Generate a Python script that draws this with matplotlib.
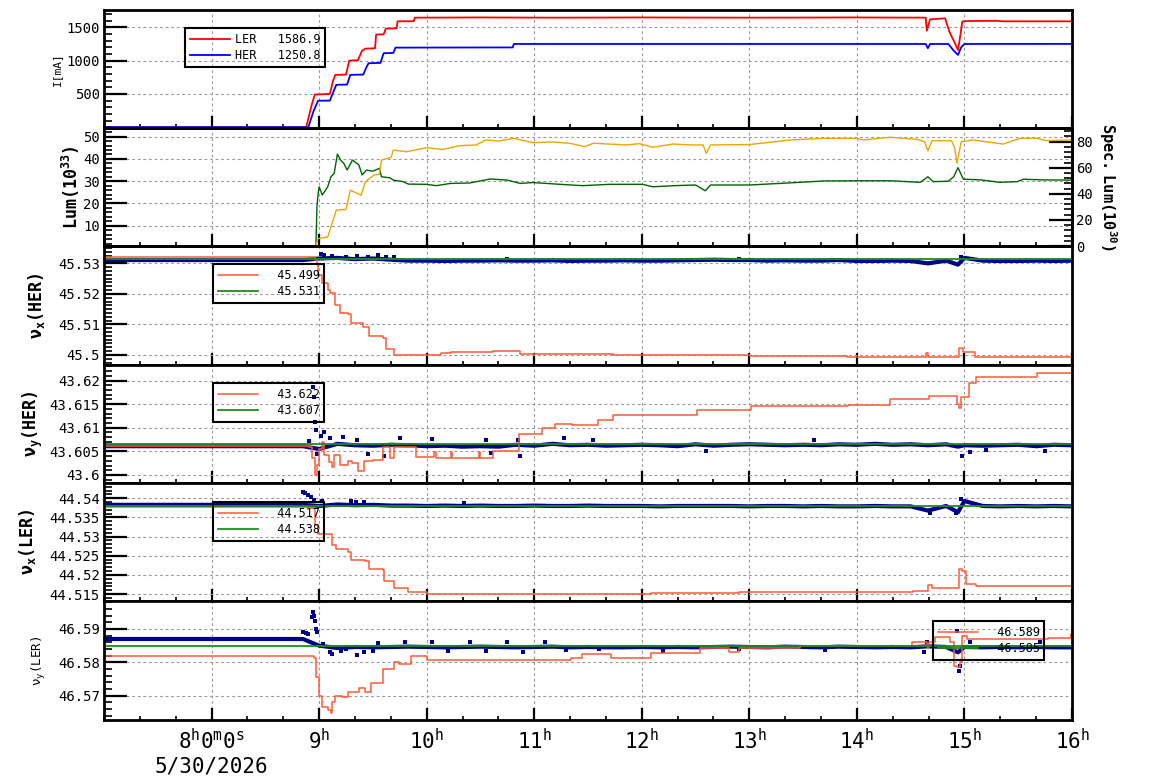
import matplotlib
matplotlib.use("Agg")
import matplotlib.pyplot as plt
from matplotlib.ticker import MultipleLocator, AutoMinorLocator, FuncFormatter

plt.rcParams['font.family'] = 'DejaVu Sans Mono'
plt.rcParams['mathtext.fontset'] = 'custom'
plt.rcParams['mathtext.rm'] = 'DejaVu Sans Mono'
plt.rcParams['mathtext.it'] = 'DejaVu Sans Mono'
plt.rcParams['mathtext.sf'] = 'DejaVu Sans Mono'
plt.rcParams['mathtext.tt'] = 'DejaVu Sans Mono'
plt.rcParams['mathtext.bf'] = 'DejaVu Sans Mono:bold'

# ---- beam currents (hours of day, mA)
ler_t = [7.00, 8.88, 8.93, 8.96, 9.10, 9.13, 9.15, 9.25, 9.28, 9.36, 9.40, 9.43, 9.52, 9.53, 9.60, 9.62, 9.72, 9.73, 9.88, 9.89,
         10.50, 11.20, 12.00, 13.00, 14.00, 14.64, 14.65, 14.68, 14.82, 14.86, 14.90, 14.94, 14.96, 14.98, 15.00, 15.30, 15.35, 16.00]
ler_i = [0, 0, 330, 490, 500, 700, 785, 790, 1000, 1005, 1150, 1180, 1185, 1390, 1395, 1480, 1485, 1590, 1592, 1645,
         1648, 1645, 1648, 1645, 1648, 1645, 1450, 1620, 1635, 1434, 1300, 1160, 1360, 1584, 1594, 1598, 1590, 1590]
her_t = [7.00, 8.90, 8.95, 8.99, 9.10, 9.14, 9.16, 9.26, 9.29, 9.41, 9.44, 9.46, 9.57, 9.60, 9.69, 9.71, 10.80, 10.81,
         12.00, 14.64, 14.66, 14.68, 14.85, 14.90, 14.94, 14.97, 15.00, 16.00]
her_i = [0, 0, 250, 397, 400, 560, 637, 640, 786, 790, 900, 961, 965, 1111, 1115, 1195, 1198, 1250,
         1250, 1250, 1186, 1250, 1250, 1150, 1085, 1200, 1250, 1251]

# ---- luminosity (left axis) and specific luminosity (right axis)
lum_t = [8.97, 8.98, 8.99, 9.00, 9.03, 9.06, 9.08, 9.11, 9.14, 9.17, 9.20, 9.23, 9.26, 9.31, 9.37, 9.40, 9.44, 9.50, 9.56, 9.58,
         9.66, 9.69, 9.78, 9.83, 10.00, 10.09, 10.22, 10.40, 10.59, 10.75, 10.87, 10.99, 11.24, 11.45, 11.70, 12.01, 12.10, 12.30,
         12.50, 12.59, 12.64, 13.00, 13.32, 13.69, 14.00, 14.31, 14.59, 14.66, 14.71, 14.85, 14.90, 14.94, 14.99, 15.15, 15.33,
         15.49, 15.55, 15.71, 16.00]
lum_v = [0.9, 18.6, 24.0, 27.5, 23.8, 26.0, 27.5, 32.0, 33.5, 42.2, 39.5, 38.0, 35.0, 39.5, 37.3, 32.8, 35.0, 34.5, 35.8, 32.0,
         31.5, 30.5, 29.8, 28.7, 28.6, 28.0, 29.0, 29.2, 31.0, 30.5, 29.0, 29.4, 28.6, 28.0, 28.6, 28.6, 27.5, 28.0,
         28.3, 25.7, 28.3, 28.3, 29.1, 30.1, 30.2, 30.2, 29.5, 32.0, 29.8, 30.0, 32.0, 36.1, 30.9, 30.6, 29.5,
         29.8, 30.9, 30.6, 30.5]
spl_t = [8.97, 8.99, 9.08, 9.11, 9.16, 9.25, 9.29, 9.39, 9.43, 9.51, 9.56, 9.58, 9.67, 9.69, 9.81, 10.00, 10.15, 10.30, 10.46,
         10.55, 10.67, 10.81, 10.99, 11.17, 11.33, 11.47, 11.55, 11.86, 11.98, 12.10, 12.29, 12.47, 12.57, 12.60, 12.64, 13.00,
         13.38, 13.69, 14.00, 14.06, 14.31, 14.56, 14.63, 14.66, 14.70, 14.88, 14.91, 14.93, 14.97, 15.08, 15.36, 15.52, 15.67,
         15.76, 16.00]
spl_v = [0.5, 5.7, 6.9, 14.6, 27.5, 28.0, 42.8, 39.0, 49.2, 54.4, 55.0, 65.9, 68.0, 73.6, 72.3, 75.4, 74.0, 76.9, 77.5,
         81.3, 80.5, 82.6, 79.2, 79.8, 78.8, 76.2, 78.8, 77.5, 78.5, 75.7, 78.2, 77.5, 77.5, 71.0, 77.5, 77.8,
         81.3, 82.6, 82.6, 81.3, 83.4, 81.8, 80.0, 73.1, 80.8, 80.8, 75.0, 63.4, 80.0, 81.3, 78.2, 82.6, 82.6,
         80.8, 81.3]

# ---- tunes: set values (tomato, step-wise)
nxh_t = [7.00, 8.91, 8.96, 8.98, 8.99, 9.03, 9.08, 9.10, 9.15, 9.19, 9.27, 9.30, 9.41, 9.46, 9.59, 9.62, 9.70, 10.07, 10.13,
         10.23, 10.62, 10.82, 10.87, 11.59, 11.73, 13.01, 13.91, 14.63, 14.64, 14.66, 14.92, 14.95, 14.99, 15.10, 16.00]
nxh_v = [45.5322, 45.5322, 45.5311, 45.5295, 45.5262, 45.5235, 45.5213, 45.5202, 45.5164, 45.5137, 45.5134, 45.5104,
         45.5093, 45.5063, 45.5055, 45.5020, 45.5000, 45.5000, 45.5005, 45.5009, 45.5013, 45.5012, 45.5003, 45.5003,
         45.5001, 45.4997, 45.4992, 45.4992, 45.5005, 45.4992, 45.4992, 45.5024, 45.5011, 45.4992, 45.4992]
nyh_t = [7.00, 8.91, 8.93, 8.96, 8.98, 9.00, 9.03, 9.05, 9.09, 9.12, 9.14, 9.19, 9.27, 9.31, 9.36, 9.42, 9.50, 9.59, 9.66,
         9.70, 9.90, 10.07, 10.09, 10.23, 10.24, 10.49, 10.50, 10.62, 10.82, 10.86, 11.07, 11.19, 11.35, 11.59, 11.73,
         12.51, 13.02, 13.92, 14.31, 14.67, 14.92, 14.93, 14.95, 14.97, 15.04, 15.11, 15.67, 16.00]
nyh_v = [43.6061, 43.6060, 43.6035, 43.6000, 43.6021, 43.6056, 43.6070, 43.6042, 43.6028, 43.6017, 43.6042, 43.6022,
         43.6030, 43.6026, 43.6008, 43.6030, 43.6032, 43.6060, 43.6035, 43.6060, 43.6039, 43.6049, 43.6037, 43.6049,
         43.6037, 43.6049, 43.6037, 43.6050, 43.6050, 43.6086, 43.6099, 43.6107, 43.6105, 43.6116, 43.6127, 43.6138,
         43.6146, 43.6148, 43.6160, 43.6167, 43.6167, 43.6150, 43.6141, 43.6165, 43.6195, 43.6207, 43.6217, 43.6217]
nxl_t = [7.00, 8.91, 8.96, 8.99, 9.10, 9.12, 9.16, 9.27, 9.30, 9.43, 9.46, 9.59, 9.60, 9.70, 9.83, 10.00, 12.09, 12.90,
         14.51, 14.52, 14.66, 14.70, 14.92, 14.95, 14.98, 15.01, 15.11, 16.00]
nxl_v = [44.5378, 44.5374, 44.5330, 44.5307, 44.5307, 44.5278, 44.5268, 44.5261, 44.5239, 44.5236, 44.5215, 44.5213,
         44.5185, 44.5165, 44.5156, 44.5150, 44.5152, 44.5155, 44.5155, 44.5158, 44.5174, 44.5165, 44.5165, 44.5215,
         44.5210, 44.5176, 44.5170, 44.5169]
nyl_t = [7.00, 8.95, 8.97, 9.00, 9.03, 9.08, 9.11, 9.12, 9.15, 9.21, 9.27, 9.37, 9.43, 9.48, 9.59, 9.70, 9.74, 9.85, 10.00,
         11.34, 11.44, 11.71, 12.09, 12.54, 12.81, 12.90, 13.47, 14.51, 14.65, 14.67, 14.73, 14.87, 14.90, 14.93, 14.96,
         14.98, 15.02, 15.78, 15.99, 16.00]
nyl_v = [46.5819, 46.5812, 46.5757, 46.5699, 46.5667, 46.5657, 46.5649, 46.5682, 46.5699, 46.5695, 46.5712, 46.5722,
         46.5712, 46.5739, 46.5779, 46.5801, 46.5795, 46.5819, 46.5807, 46.5812, 46.5825, 46.5812, 46.5827, 46.5842,
         46.5832, 46.5842, 46.5850, 46.5862, 46.5845, 46.5862, 46.5877, 46.5860, 46.5790, 46.5787, 46.5800, 46.5880,
         46.5869, 46.5872, 46.5885, 46.5885]

# ---- tunes: reference values (green, flat)
ref_t = [7.0, 16.0]
nxh_ref = [45.5313, 45.5313]
nyh_ref = [43.6066, 43.6066]
nxl_ref = [44.5380, 44.5380]
nyl_ref = [46.5849, 46.5849]

# ---- tunes: measured (navy)
blue_t = [7.00, 8.85, 9.00, 9.17, 9.33, 9.50, 9.67, 9.83, 10.00, 10.17, 10.33, 10.50, 10.67, 10.83, 11.00, 11.17, 11.33,
          11.50, 11.67, 11.83, 12.00, 12.17, 12.33, 12.50, 12.67, 12.83, 13.00, 13.17, 13.33, 13.50, 13.67, 13.83, 14.00,
          14.17, 14.33, 14.50, 14.66, 14.83, 14.94, 15.00, 15.17, 15.33, 15.50, 15.67, 15.83, 16.00]
nxh_meas = [45.5311, 45.5311, 45.5316, 45.5318, 45.5314, 45.5316, 45.5312, 45.5309, 45.5309, 45.5308, 45.5309, 45.5309,
            45.5310, 45.5309, 45.5309, 45.5310, 45.5308, 45.5309, 45.5309, 45.5310, 45.5309, 45.5309, 45.5310, 45.5311,
            45.5312, 45.5311, 45.5311, 45.5309, 45.5310, 45.5309, 45.5309, 45.5311, 45.5308, 45.5308, 45.5309, 45.5308,
            45.5300, 45.5309, 45.5296, 45.5318, 45.5309, 45.5308, 45.5308, 45.5309, 45.5308, 45.5309]
nyh_meas = [43.6061, 43.6061, 43.6055, 43.6066, 43.6063, 43.6062, 43.6064, 43.6063, 43.6061, 43.6062, 43.6060, 43.6061,
            43.6060, 43.6064, 43.6062, 43.6066, 43.6063, 43.6064, 43.6062, 43.6063, 43.6064, 43.6063, 43.6061, 43.6065,
            43.6062, 43.6064, 43.6065, 43.6064, 43.6063, 43.6064, 43.6063, 43.6065, 43.6064, 43.6066, 43.6064, 43.6065,
            43.6063, 43.6065, 43.6060, 43.6063, 43.6062, 43.6063, 43.6064, 43.6061, 43.6064, 43.6063]
nxl_meas = [44.5383, 44.5383, 44.5380, 44.5384, 44.5382, 44.5383, 44.5381, 44.5381, 44.5380, 44.5381, 44.5380, 44.5381,
            44.5380, 44.5380, 44.5381, 44.5380, 44.5380, 44.5381, 44.5380, 44.5380, 44.5380, 44.5379, 44.5380, 44.5380,
            44.5380, 44.5380, 44.5379, 44.5380, 44.5380, 44.5379, 44.5380, 44.5379, 44.5379, 44.5380, 44.5379, 44.5379,
            44.5368, 44.5380, 44.5364, 44.5393, 44.5380, 44.5379, 44.5380, 44.5379, 44.5380, 44.5379]
nyl_meas = [46.5870, 46.5870, 46.5850, 46.5843, 46.5846, 46.5845, 46.5846, 46.5847, 46.5846, 46.5845, 46.5846, 46.5847,
            46.5846, 46.5845, 46.5846, 46.5847, 46.5845, 46.5846, 46.5845, 46.5845, 46.5846, 46.5845, 46.5846, 46.5845,
            46.5846, 46.5847, 46.5846, 46.5845, 46.5847, 46.5846, 46.5845, 46.5847, 46.5846, 46.5845, 46.5846, 46.5845,
            46.5848, 46.5846, 46.5830, 46.5846, 46.5845, 46.5846, 46.5845, 46.5846, 46.5845, 46.5845]

# scattered single readings off the main band
nxh_out_t = [9.02, 9.05, 9.12, 9.25, 9.35, 9.45, 9.55, 9.62, 9.70, 10.75, 12.90, 14.97]
nxh_out_v = [45.5330, 45.5326, 45.5324, 45.5322, 45.5325, 45.5322, 45.5326, 45.5321, 45.5322, 45.5314, 45.5313, 45.5322]
nyh_out_t = [8.91, 8.94, 8.95, 8.96, 8.97, 8.98, 9.02, 9.05, 9.10, 9.22, 9.35, 9.45, 9.60, 9.75, 10.05, 10.55, 10.60,
             10.85, 10.87, 11.28, 11.55, 12.60, 13.60, 14.98, 15.05, 15.20, 15.75]
nyh_out_v = [43.6072, 43.6187, 43.6165, 43.6113, 43.6095, 43.6045, 43.6082, 43.6090, 43.6078, 43.6080, 43.6074, 43.6045,
             43.6040, 43.6078, 43.6076, 43.6075, 43.6047, 43.6075, 43.6040, 43.6078, 43.6074, 43.6050, 43.6075, 43.6040,
             43.6048, 43.6052, 43.6050]
nxl_out_t = [8.85, 8.87, 8.90, 8.92, 8.95, 9.03, 9.30, 9.34, 9.42, 10.35, 14.68, 14.92, 14.97]
nxl_out_v = [44.5417, 44.5414, 44.5408, 44.5404, 44.5396, 44.5392, 44.5393, 44.5391, 44.5390, 44.5389, 44.5362, 44.5361,
             44.5397]
nyl_out_t = [8.85, 8.88, 8.90, 8.93, 8.94, 8.95, 8.96, 8.97, 8.98, 9.04, 9.10, 9.12, 9.20, 9.25, 9.35, 9.42, 9.50, 9.55,
             9.80, 10.05, 10.20, 10.40, 10.55, 10.75, 10.90, 11.10, 11.30, 11.60, 12.20, 12.90, 13.70, 14.62, 14.65,
             14.93, 14.95, 14.96, 15.05, 15.70]
nyl_out_v = [46.5890, 46.5888, 46.5885, 46.5935, 46.5950, 46.5938, 46.5925, 46.5900, 46.5890, 46.5855, 46.5830, 46.5825,
             46.5835, 46.5840, 46.5822, 46.5830, 46.5835, 46.5858, 46.5860, 46.5862, 46.5835, 46.5860, 46.5835, 46.5862,
             46.5832, 46.5860, 46.5836, 46.5840, 46.5835, 46.5840, 46.5836, 46.5830, 46.5862, 46.5895, 46.5775, 46.5790,
             46.5860, 46.5860]

hour_ticks = [8, 9, 10, 11, 12, 13, 14, 15, 16]
hour_labels = [r'$8^{h}0^{m}0^{s}$' + '\n5/30/2026', r'$9^{h}$', r'$10^{h}$', r'$11^{h}$', r'$12^{h}$',
               r'$13^{h}$', r'$14^{h}$', r'$15^{h}$', r'$16^{h}$']

TOMATO = '#ff5a36'
GREEN = '#1e8c1e'
NAVY = '#00008b'

W, H = 1154, 782
fig = plt.figure(figsize=(W / 100, H / 100), dpi=100)
edges = [10, 128, 246, 365, 483, 601, 720]
axs = []
for i in range(6):
    axs.append(fig.add_axes([104 / W, 1 - edges[i + 1] / H, 968 / W, (edges[i + 1] - edges[i]) / H]))


def style(ax, yticks, minor, ylim):
    ax.set_xlim(7, 16)
    ax.set_ylim(*ylim)
    ax.set_xticks(hour_ticks)
    ax.xaxis.set_minor_locator(MultipleLocator(1 / 3))
    ax.set_yticks(yticks)
    ax.yaxis.set_minor_locator(minor)
    ax.yaxis.set_major_formatter(FuncFormatter(lambda v, p: '%g' % round(v, 6)))
    ax.tick_params(axis='x', which='major', direction='in', length=9, width=1.6, labelbottom=False)
    ax.tick_params(axis='x', which='minor', direction='in', length=3, width=1.2)
    ax.tick_params(axis='y', which='major', direction='in', length=16.5, width=1.6, labelsize=10, pad=3)
    ax.tick_params(axis='y', which='minor', direction='in', length=5.5, width=1.2)
    ax.grid(True, which='major', color='#9a9a9a', linestyle=(0, (2.5, 2.5)), linewidth=0.8)
    for s in ax.spines.values():
        s.set_linewidth(2)


def add_legend(ax, x, y, labels):
    leg = ax.legend(labels, loc='upper left', bbox_to_anchor=(x, y), borderaxespad=0, fontsize=8.5,
                    handlelength=3.4, handletextpad=0.4, labelspacing=0.3, borderpad=0.4,
                    fancybox=False, edgecolor='black', facecolor='none', framealpha=1)
    leg.get_frame().set_linewidth(1.5)


# panel 1: currents
ax = axs[0]
ax.plot(ler_t, ler_i, color='#ff0000', lw=1.3)
ax.plot(her_t, her_i, color='#0000ff', lw=1.3)
style(ax, [500, 1000, 1500], MultipleLocator(100), (-12, 1760))
ax.set_ylabel('I[mA]', fontsize=8)
ax.yaxis.set_label_coords(-0.0434, 0.5)
add_legend(ax, 0.0837, 0.8475, ['LER   1586.9', 'HER   1250.8'])

# panel 2: luminosity
ax = axs[1]
ax.plot(lum_t, lum_v, color='#006400', lw=1.0)
style(ax, [10, 20, 30, 40, 50], MultipleLocator(2), (0.9, 53.9))
ax.set_ylabel(r'$\mathbf{Lum(10^{33})}$', fontsize=12)
ax.yaxis.set_label_coords(-0.0227, 0.5)
axr = ax.twinx()
axr.plot(spl_t, spl_v, color='#f0a500', lw=1.0)
axr.set_ylim(0, 90.5)
axr.set_yticks([0, 20, 40, 60, 80])
axr.yaxis.set_minor_locator(MultipleLocator(4))
axr.tick_params(axis='y', which='major', direction='in', length=16.5, width=1.6, labelsize=10, pad=3)
axr.tick_params(axis='y', which='minor', direction='in', length=5.5, width=1.2)
for s in axr.spines.values():
    s.set_linewidth(2)
axr.set_ylabel(r'$\mathbf{Spec.\ Lum(10^{30})}$', fontsize=11, rotation=270, va='bottom')
axr.yaxis.set_label_coords(1.0258, 0.5)

# panels 3-6: tunes
tune_panels = [
    (axs[2], blue_t, nxh_meas, nxh_out_t, nxh_out_v, nxh_t, nxh_v, nxh_ref,
     [45.50, 45.51, 45.52, 45.53], AutoMinorLocator(8), (45.4967, 45.5357),
     r'$\mathbf{\nu_x(HER)}$', 12, -0.0589, (0.1126, 0.8487), ['  45.499', '  45.531']),
    (axs[3], blue_t, nyh_meas, nyh_out_t, nyh_out_v, nyh_t, nyh_v, nyh_ref,
     [43.600, 43.605, 43.610, 43.615, 43.620], MultipleLocator(0.001), (43.5983, 43.6233),
     r'$\mathbf{\nu_y(HER)}$', 12, -0.061, (0.1126, 0.847), ['  43.622', '  43.607']),
    (axs[4], blue_t, nxl_meas, nxl_out_t, nxl_out_v, nxl_t, nxl_v, nxl_ref,
     [44.515, 44.520, 44.525, 44.530, 44.535, 44.540], MultipleLocator(0.001), (44.5132, 44.5440),
     r'$\mathbf{\nu_x(LER)}$', 12, -0.068, (0.1126, 0.839), ['  44.517', '  44.538']),
    (axs[5], blue_t, nyl_meas, nyl_out_t, nyl_out_v, nyl_t, nyl_v, nyl_ref,
     [46.57, 46.58, 46.59], MultipleLocator(0.002), (46.5627, 46.5984),
     r'$\nu_y$(LER)', 9, -0.058, (0.8564, 0.832), ['  46.589', '  46.585']),
]
for (ax, bt, bv, ot, ov, tt, tv, ref, yt, mloc, ylim, lab, lfs, lx, lpos, llabels) in tune_panels:
    ax.plot(bt, bv, color=NAVY, lw=3.0)
    ax.plot(ot, ov, 's', color=NAVY, ms=2.6, mew=0)
    ln_set, = ax.plot(tt, tv, color=TOMATO, lw=1.1, drawstyle='steps-post')
    ln_ref, = ax.plot(ref_t, ref, color=GREEN, lw=1.3)
    style(ax, yt, mloc, ylim)
    ax.set_ylabel(lab, fontsize=lfs)
    ax.yaxis.set_label_coords(lx, 0.5)
    leg = ax.legend([ln_set, ln_ref], llabels, loc='upper left', bbox_to_anchor=lpos, borderaxespad=0,
                    fontsize=8.5, handlelength=3.4, handletextpad=0.4, labelspacing=0.3, borderpad=0.4,
                    fancybox=False, edgecolor='black', facecolor='none', framealpha=1)
    leg.get_frame().set_linewidth(1.5)

axs[5].set_xticklabels(hour_labels)
axs[5].tick_params(axis='x', which='major', labelbottom=True, labelsize=15, pad=6)

fig.savefig('out.png', dpi=100)
